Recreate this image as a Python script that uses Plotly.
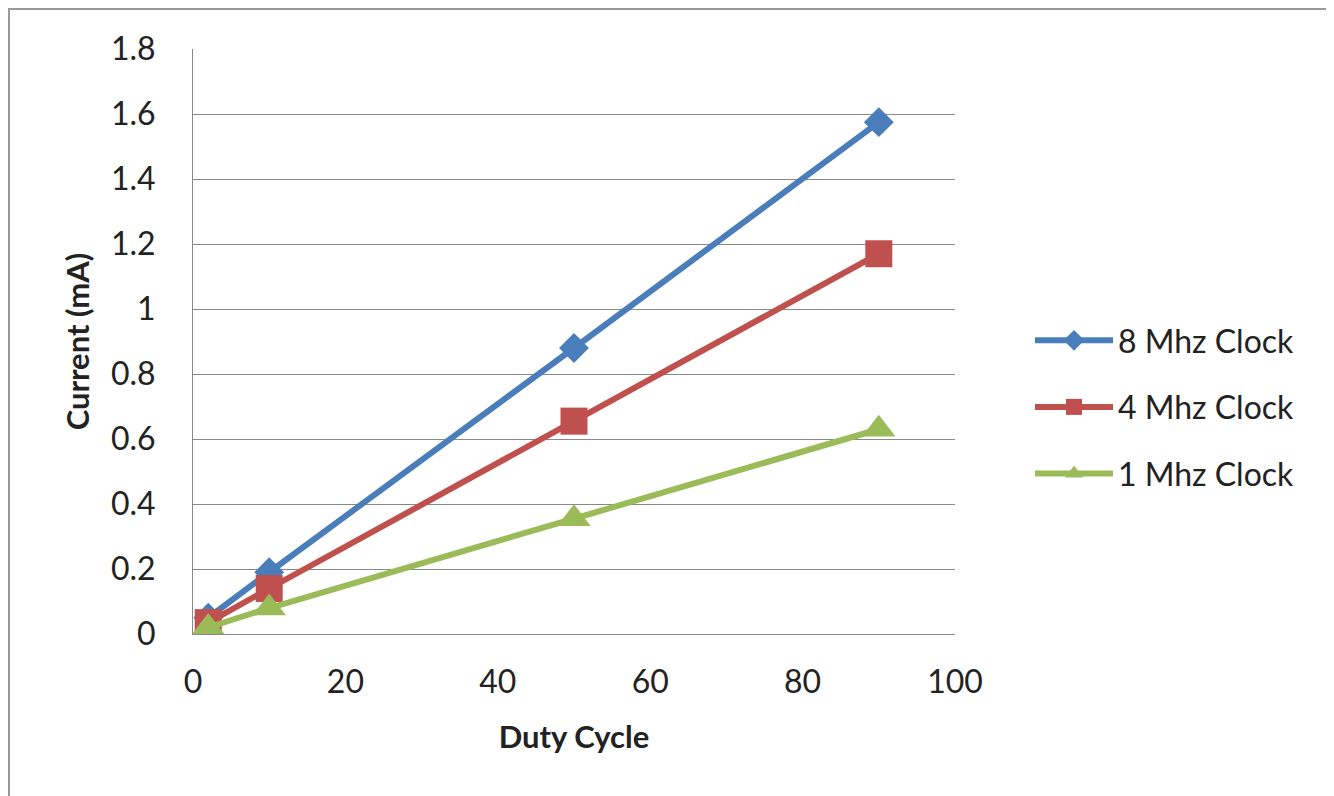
import plotly.graph_objects as go

duty_cycle = [2, 10, 50, 90]
clock_8mhz = [0.05, 0.19, 0.88, 1.575]
clock_4mhz = [0.035, 0.14, 0.655, 1.17]
clock_1mhz = [0.02, 0.08, 0.355, 0.63]
series_names = ["8 Mhz Clock", "4 Mhz Clock", "1 Mhz Clock"]

OFF = 8  # default body margin of the html page
W, H = 1334 - OFF, 796 - OFF
L, T = 193 - OFF, 49 - OFF
R = W - (955 - OFF)
B = H - (634 - OFF)

fig = go.Figure()
styles = [
    ("#4A7EBB", "diamond", 23),
    ("#C0504D", "square", 27),
    ("#9BBB59", "triangle-up", 29),
]
for i, (name, ys, (col, sym, sz)) in enumerate(zip(series_names, [clock_8mhz, clock_4mhz, clock_1mhz], styles)):
    fig.add_trace(go.Scatter(
        x=duty_cycle, y=ys, name=name, mode="lines+markers", legendgroup=str(i),
        line=dict(color=col, width=6),
        marker=dict(color=col, symbol=sym, size=sz, line=dict(width=0)),
    ))

pw = W - L - R
ph = H - T - B
def px(x):
    return (x - OFF - L) / pw
def py(y):
    return (H - B - (y - OFF)) / ph

fig.update_layout(
    width=W, height=H,
    margin=dict(l=L, r=R, t=T, b=B),
    paper_bgcolor="white", plot_bgcolor="white",
    font=dict(family="Lato, Open Sans, sans-serif", size=32, color="#222222"),
    showlegend=True,
    legend=dict(x=px(1030), y=py(313), xanchor="left", yanchor="top",
                font=dict(size=32), tracegroupgap=22, itemwidth=78,
                bgcolor="rgba(0,0,0,0)"),
    xaxis=dict(range=[0, 100], dtick=20, showgrid=False, zeroline=False,
               showline=True, linecolor="#888888", linewidth=1,
               ticks="", ticklabelstandoff=20,
               title=dict(text="<b>Duty Cycle</b>", font=dict(size=31), standoff=26),
               tickfont=dict(size=32)),
    yaxis=dict(range=[0, 1.8], dtick=0.2, showgrid=True, gridcolor="#888888", gridwidth=1,
               zeroline=False, showline=True, linecolor="#888888", linewidth=1,
               ticks="", tickformat="~g", ticklabelstandoff=30,
               title=dict(text="<b>Current (mA)</b>", font=dict(size=31), standoff=12),
               tickfont=dict(size=32)),
    shapes=[dict(type="rect", xref="paper", yref="paper",
                 x0=px(9), x1=px(1332), y0=py(805), y1=py(9),
                 line=dict(color="#999999", width=2), fillcolor="rgba(0,0,0,0)")],
)

fig.write_html("out.html")
